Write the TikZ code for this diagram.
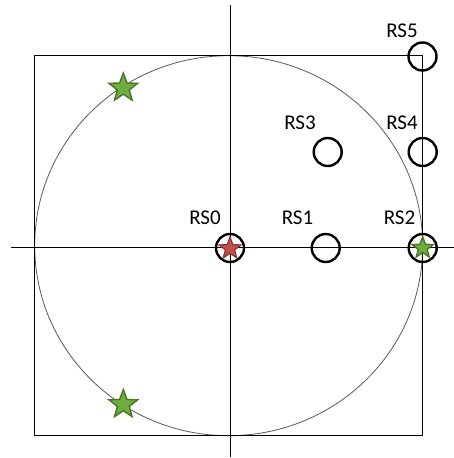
\documentclass[tikz,border=0pt]{standalone}
\usepackage{fontspec}
\setmainfont{Carlito}
\usetikzlibrary{shapes.geometric}
\definecolor{stargreen}{HTML}{6EAE3C}
\definecolor{stargreenedge}{HTML}{4A7426}
\definecolor{starred}{HTML}{C0504D}
\definecolor{starrededge}{HTML}{8C3431}
\tikzset{
  frame/.style={draw=black, line width=0.8pt},
  rim/.style={draw=black!65, line width=0.8pt},
  station/.style={circle, draw=black, line width=2.4pt, minimum size=28pt, inner sep=0pt},
  rslabel/.style={font=\fontsize{21pt}{21pt}\selectfont, inner sep=0pt},
  gstar/.style={star, star points=5, star point ratio=2.4, fill=stargreen, draw=stargreenedge, line width=1.4pt, inner sep=0pt},
  rstar/.style={star, star points=5, star point ratio=2.4, fill=starred, draw=starrededge, line width=1.2pt, inner sep=0pt},
}
\begin{document}
\begin{tikzpicture}[x=1pt, y=-1pt]
  \useasboundingbox (0,0) rectangle (454,458);
  % coverage ellipse and bounding square
  \draw[rim] (228.7,245.7) ellipse [x radius=194, y radius=190];
  \draw[frame] (34.7,55.7) rectangle (422.7,435.7);
  % axes
  \coordinate (xl) at (10.7,247.5);
  \coordinate (xr) at (454,247.5);
  \coordinate (yt) at (230,4.5);
  \coordinate (yb) at (230,457);
  \draw[frame] (xl) -- (xr);
  \draw[frame] (yt) -- (yb);
  % stations
  \node[station] (rs0) at (230,248) {};
  \node[station] (rs1) at (325.7,248) {};
  \node[station] (rs2) at (422.7,248) {};
  \node[station] (rs3) at (327.7,152) {};
  \node[station] (rs4) at (422.7,152) {};
  \node[station] (rs5) at (422.5,56.5) {};
  % station labels
  \node[rslabel] (l0) at (205,217.5) {RS0};
  \node[rslabel] (l1) at (297.5,217.5) {RS1};
  \node[rslabel] (l2) at (399.5,217.5) {RS2};
  \node[rslabel] (l3) at (300,123) {RS3};
  \node[rslabel] (l4) at (402,123) {RS4};
  \node[rslabel] (l5) at (402,30.5) {RS5};
  % stars
  \node[rstar, minimum size=23pt] (s0) at (230,248.5) {};
  \node[gstar, minimum size=22pt] (s2) at (422.7,248) {};
  \node[gstar, minimum size=30pt] (s3) at (123.3,88) {};
  \node[gstar, minimum size=30pt] (s4) at (123.3,404.5) {};
\end{tikzpicture}
\end{document}
